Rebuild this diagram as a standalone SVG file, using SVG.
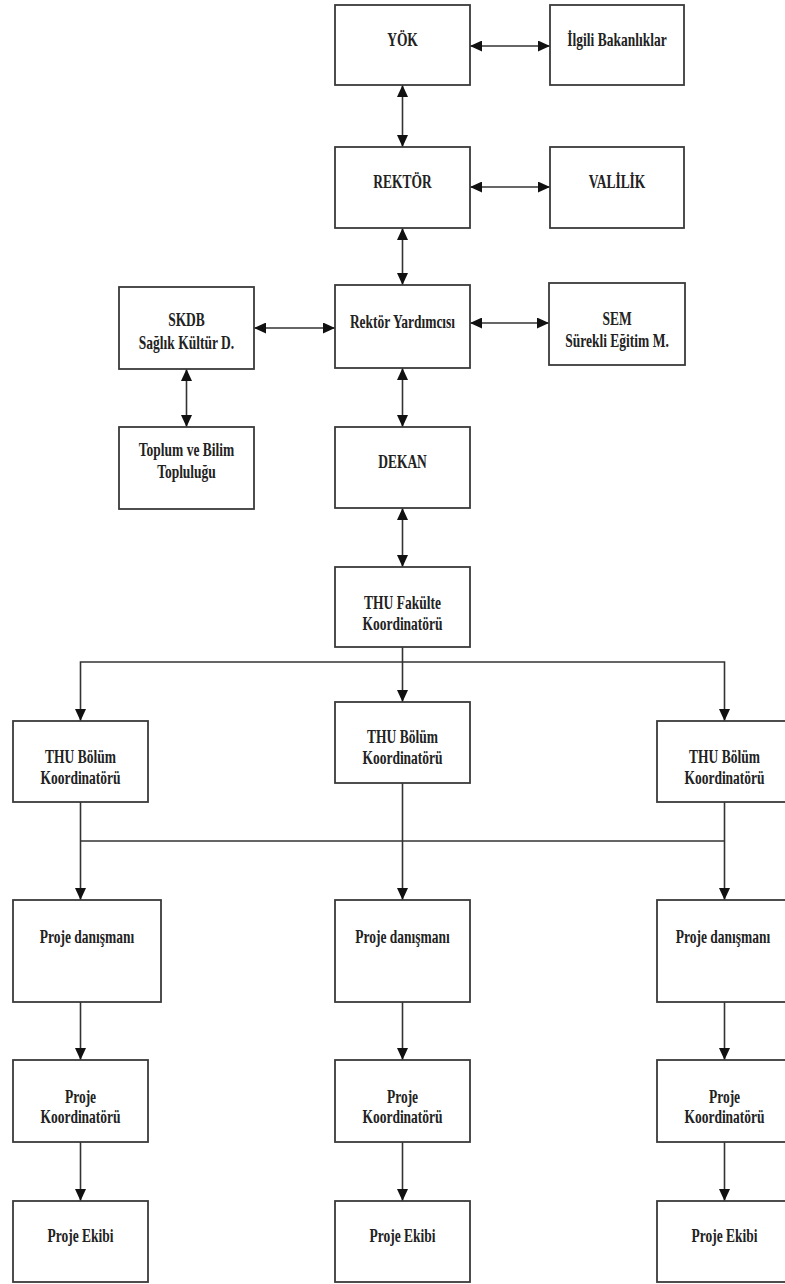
<svg xmlns="http://www.w3.org/2000/svg" width="785" height="1284" viewBox="0 0 785 1284">
<style>
.box{fill:#fff;stroke:#3a3a3a;stroke-width:1.8}
.t{font-family:"Liberation Serif","Times New Roman",serif;font-weight:bold;font-size:18px;fill:#222;text-anchor:middle}
.c{fill:none;stroke:#333;stroke-width:1.6}
</style>
<defs>
<marker id="ah" viewBox="0 0 12 11" refX="12" refY="5.5" markerWidth="12" markerHeight="11" markerUnits="userSpaceOnUse" orient="auto-start-reverse">
<path d="M0,0 L12,5.5 L0,11 z" fill="#111"/>
</marker>
</defs>
<rect width="785" height="1284" fill="#fff"/>
<g id="connectors">
<line class="c" x1="470" y1="46" x2="550" y2="46" marker-start="url(#ah)" marker-end="url(#ah)"/>
<line class="c" x1="470" y1="187" x2="550" y2="187" marker-start="url(#ah)" marker-end="url(#ah)"/>
<line class="c" x1="402.5" y1="85" x2="402.5" y2="147" marker-start="url(#ah)" marker-end="url(#ah)"/>
<line class="c" x1="402.5" y1="228" x2="402.5" y2="285" marker-start="url(#ah)" marker-end="url(#ah)"/>
<line class="c" x1="254" y1="328" x2="335" y2="328" marker-start="url(#ah)" marker-end="url(#ah)"/>
<line class="c" x1="470" y1="323" x2="549" y2="323" marker-start="url(#ah)" marker-end="url(#ah)"/>
<line class="c" x1="186.5" y1="369" x2="186.5" y2="427" marker-start="url(#ah)" marker-end="url(#ah)"/>
<line class="c" x1="402.5" y1="368" x2="402.5" y2="427" marker-start="url(#ah)" marker-end="url(#ah)"/>
<line class="c" x1="402.5" y1="508" x2="402.5" y2="567" marker-start="url(#ah)" marker-end="url(#ah)"/>
<path class="c" d="M402.5,647 V702" marker-end="url(#ah)"/>
<path class="c" d="M402.5,662 H80.5 V721" marker-end="url(#ah)"/>
<path class="c" d="M402.5,662 H724.5 V721" marker-end="url(#ah)"/>
<path class="c" d="M80.5,841 H724.5"/>
<path class="c" d="M80.5,802 V900" marker-end="url(#ah)"/>
<path class="c" d="M402.5,783 V900" marker-end="url(#ah)"/>
<path class="c" d="M724.5,802 V900" marker-end="url(#ah)"/>
<path class="c" d="M80.5,1002 V1060" marker-end="url(#ah)"/>
<path class="c" d="M402.5,1002 V1060" marker-end="url(#ah)"/>
<path class="c" d="M724.5,1002 V1060" marker-end="url(#ah)"/>
<path class="c" d="M80.5,1142 V1201" marker-end="url(#ah)"/>
<path class="c" d="M402.5,1142 V1201" marker-end="url(#ah)"/>
<path class="c" d="M724.5,1142 V1201" marker-end="url(#ah)"/>
</g>
<g id="yok"><rect class="box" x="335" y="5" width="135" height="80"/><text class="t" transform="translate(402.5,46) scale(0.75 1)">YÖK</text></g>
<g id="ilgili"><rect class="box" x="550" y="5" width="134" height="80"/><text class="t" transform="translate(617,46) scale(0.75 1)">İlgili Bakanlıklar</text></g>
<g id="rektor"><rect class="box" x="335" y="147" width="135" height="81"/><text class="t" transform="translate(402.5,188) scale(0.75 1)">REKTÖR</text></g>
<g id="valilik"><rect class="box" x="550" y="147" width="134" height="81"/><text class="t" transform="translate(617,188) scale(0.75 1)">VALİLİK</text></g>
<g id="skdb"><rect class="box" x="119" y="287" width="135" height="82"/><text class="t" transform="translate(186.5,326) scale(0.75 1)">SKDB</text><text class="t" transform="translate(186.5,349) scale(0.75 1)">Sağlık Kültür D.</text></g>
<g id="rektor-yardimcisi"><rect class="box" x="335" y="285" width="135" height="83"/><text class="t" transform="translate(402.5,328) scale(0.75 1)">Rektör Yardımcısı</text></g>
<g id="sem"><rect class="box" x="549" y="283" width="136" height="82"/><text class="t" transform="translate(617,325) scale(0.75 1)">SEM</text><text class="t" transform="translate(617,347) scale(0.75 1)">Sürekli Eğitim M.</text></g>
<g id="toplum"><rect class="box" x="119" y="427" width="135" height="82"/><text class="t" transform="translate(186.5,456) scale(0.75 1)">Toplum ve Bilim</text><text class="t" transform="translate(186.5,478) scale(0.75 1)">Topluluğu</text></g>
<g id="dekan"><rect class="box" x="335" y="427" width="135" height="81"/><text class="t" transform="translate(402.5,468) scale(0.75 1)">DEKAN</text></g>
<g id="fakulte"><rect class="box" x="335" y="567" width="135" height="80"/><text class="t" transform="translate(402.5,609) scale(0.75 1)">THU Fakülte</text><text class="t" transform="translate(402.5,630) scale(0.75 1)">Koordinatörü</text></g>
<g id="bolum1"><rect class="box" x="13" y="721" width="135" height="81"/><text class="t" transform="translate(80.5,763) scale(0.75 1)">THU Bölüm</text><text class="t" transform="translate(80.5,784) scale(0.75 1)">Koordinatörü</text></g>
<g id="bolum2"><rect class="box" x="335" y="702" width="135" height="81"/><text class="t" transform="translate(402.5,743) scale(0.75 1)">THU Bölüm</text><text class="t" transform="translate(402.5,764) scale(0.75 1)">Koordinatörü</text></g>
<g id="bolum3"><rect class="box" x="657" y="721" width="135" height="81"/><text class="t" transform="translate(724.5,763) scale(0.75 1)">THU Bölüm</text><text class="t" transform="translate(724.5,784) scale(0.75 1)">Koordinatörü</text></g>
<g id="danisman1"><rect class="box" x="13" y="900" width="148" height="102"/><text class="t" transform="translate(87,943) scale(0.75 1)">Proje danışmanı</text></g>
<g id="danisman2"><rect class="box" x="335" y="900" width="135" height="102"/><text class="t" transform="translate(402.5,943) scale(0.75 1)">Proje danışmanı</text></g>
<g id="danisman3"><rect class="box" x="657" y="900" width="135" height="102"/><text class="t" transform="translate(723,943) scale(0.75 1)">Proje danışmanı</text></g>
<g id="koord1"><rect class="box" x="13" y="1060" width="135" height="82"/><text class="t" transform="translate(80.5,1103) scale(0.75 1)">Proje</text><text class="t" transform="translate(80.5,1123) scale(0.75 1)">Koordinatörü</text></g>
<g id="koord2"><rect class="box" x="335" y="1060" width="135" height="82"/><text class="t" transform="translate(402.5,1103) scale(0.75 1)">Proje</text><text class="t" transform="translate(402.5,1123) scale(0.75 1)">Koordinatörü</text></g>
<g id="koord3"><rect class="box" x="657" y="1060" width="135" height="82"/><text class="t" transform="translate(724.5,1103) scale(0.75 1)">Proje</text><text class="t" transform="translate(724.5,1123) scale(0.75 1)">Koordinatörü</text></g>
<g id="ekip1"><rect class="box" x="13" y="1201" width="135" height="81"/><text class="t" transform="translate(80.5,1242) scale(0.75 1)">Proje Ekibi</text></g>
<g id="ekip2"><rect class="box" x="335" y="1201" width="135" height="81"/><text class="t" transform="translate(402.5,1242) scale(0.75 1)">Proje Ekibi</text></g>
<g id="ekip3"><rect class="box" x="657" y="1201" width="135" height="81"/><text class="t" transform="translate(724.5,1242) scale(0.75 1)">Proje Ekibi</text></g>
</svg>
